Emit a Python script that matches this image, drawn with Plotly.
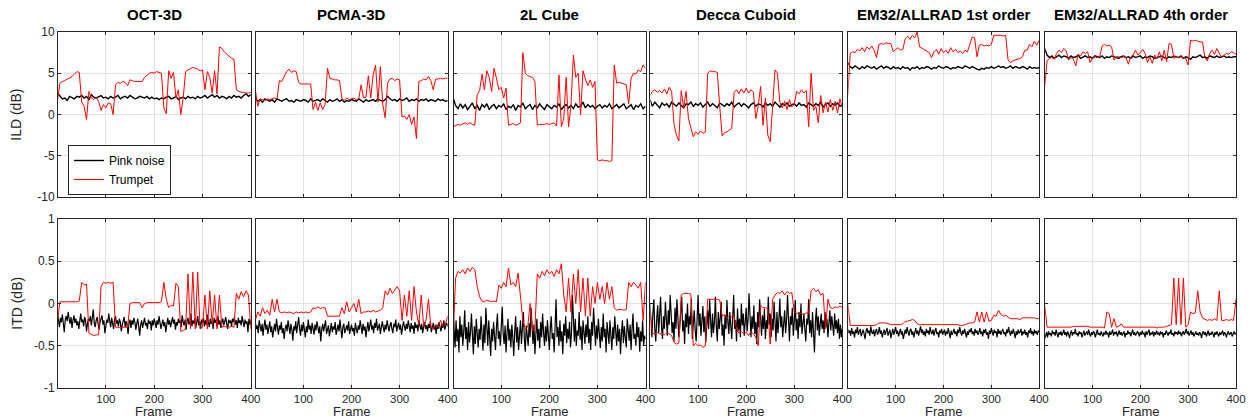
import plotly.graph_objects as go

# ---------------- data ----------------
frames = list(range(0, 401, 5))       # trumpet + ILD pink noise sampling
frames_fine = list(range(0, 401, 2))  # ITD pink noise sampling
titles = ["OCT-3D", "PCMA-3D", "2L Cube", "Decca Cuboid",
          "EM32/ALLRAD 1st order", "EM32/ALLRAD 4th order"]
ild_ticks = [-10, -5, 0, 5, 10]
ild_ticktext = ["-10", "-5", "0", "5", "10"]
itd_ticks = [-1, -0.5, 0, 0.5, 1]
itd_ticktext = ["-1", "-0.5", "0", "0.5", "1"]
frame_ticks = [100, 200, 300, 400]

# ---- ILD, pink noise ----
oct_ild_pink = [2.6,2.3,1.9,2.0,1.7,2.2,2.0,1.9,2.2,2.1,2.3,2.0,2.2,1.8,2.4,2.1,2.0,2.2,2.3,2.0,
                2.1,1.9,2.2,2.0,2.1,2.3,1.9,2.1,2.2,2.0,2.3,2.1,1.9,2.0,2.2,2.1,2.0,2.2,1.9,2.1,
                1.9,2.0,1.8,2.0,1.9,2.1,2.2,1.9,2.0,2.2,1.8,2.0,2.1,1.9,2.2,2.0,2.1,1.9,2.2,2.0,
                2.1,2.3,2.0,2.2,2.4,2.1,2.3,2.0,2.2,2.1,1.9,2.2,2.0,2.3,2.1,2.2,2.0,2.3,2.5,2.2,2.4]
pcma_ild_pink = [2.0,1.6,1.8,1.5,1.9,1.7,1.6,1.8,1.5,1.9,1.7,1.6,1.8,1.9,1.6,1.7,1.5,1.8,1.7,1.6,
                 1.8,1.7,1.5,1.9,1.6,1.7,1.8,1.6,1.9,1.7,1.5,1.8,1.6,1.7,1.9,1.6,1.8,1.5,1.7,1.6,
                 1.8,1.7,1.6,1.9,1.7,1.5,1.8,1.6,1.7,1.8,1.6,1.9,1.7,1.6,1.8,2.2,1.9,1.7,1.8,1.6,
                 1.9,1.7,1.8,2.0,1.6,1.8,1.7,1.9,1.6,1.8,1.7,1.9,1.6,1.8,1.7,1.6,1.9,1.7,1.8,1.6,1.7]
cube_ild_pink = [2.0,1.1,0.7,1.3,0.8,1.2,0.6,1.0,1.4,0.7,1.1,0.5,1.2,0.9,1.3,0.6,1.0,1.2,0.7,1.1,
                 0.9,1.3,0.6,1.0,0.8,1.2,0.5,1.1,0.9,1.4,0.7,1.0,1.2,0.6,1.1,0.8,1.3,0.9,0.6,1.2,
                 1.0,0.7,1.1,0.9,1.3,0.6,1.0,1.2,0.8,1.1,0.7,1.3,0.9,1.0,1.5,0.8,1.2,0.9,1.1,0.7,
                 1.0,1.2,0.8,1.1,0.9,1.3,0.7,1.0,1.2,0.8,1.1,1.3,0.7,1.0,1.2,0.6,1.1,0.9,1.3,0.7,1.0]
decca_ild_pink = [1.8,1.0,1.5,1.2,0.8,1.4,1.1,1.3,0.9,1.5,1.2,1.0,1.4,1.1,0.8,1.3,1.2,1.5,1.0,1.3,
                  1.1,1.4,0.9,1.2,1.5,1.0,1.3,1.1,0.8,1.4,1.2,1.0,1.3,1.1,1.5,0.9,1.2,1.4,1.0,1.3,
                  1.1,0.8,1.2,1.4,1.0,1.3,1.2,0.9,1.4,1.1,1.3,1.0,1.5,1.2,0.9,1.3,1.1,1.4,1.0,1.2,
                  1.3,1.0,1.4,1.1,1.2,0.9,1.4,1.2,1.0,1.3,1.1,1.5,0.9,1.2,1.4,1.0,1.3,1.1,1.4,1.0,1.2]
em1_ild_pink = [6.3,5.8,5.6,5.9,5.7,5.5,5.8,5.6,5.9,5.7,5.6,5.8,5.5,5.7,5.9,5.6,5.8,5.7,5.5,5.8,
                5.6,5.7,5.5,5.8,5.6,5.7,5.4,5.7,5.6,5.8,5.5,5.7,5.6,5.8,5.7,5.5,5.7,5.6,5.9,5.7,
                5.6,5.8,5.7,5.5,5.7,5.6,5.8,5.7,5.6,5.9,5.7,5.6,5.8,5.6,5.5,5.4,5.6,5.5,5.7,5.6,
                5.8,5.6,5.7,5.9,5.7,5.8,5.6,5.7,5.9,5.6,5.8,5.7,5.6,5.8,5.7,5.5,5.8,5.6,5.7,5.6,5.7]
em4_ild_pink = [8.0,7.2,6.9,7.1,6.8,7.0,7.2,6.9,7.1,7.0,6.8,7.1,6.9,7.0,7.2,6.8,7.0,7.1,6.9,7.0,
                6.8,7.1,7.0,6.9,7.1,6.8,7.0,6.9,7.1,7.0,6.9,6.8,7.0,7.1,6.9,7.0,6.8,7.1,6.9,7.0,
                7.1,6.8,7.0,6.9,7.1,7.0,6.8,6.9,7.0,7.1,6.9,6.8,7.0,6.9,7.1,7.0,6.9,7.1,6.8,7.0,
                6.9,6.7,7.0,6.9,7.1,7.2,6.9,7.0,6.8,7.1,7.0,6.9,7.1,6.9,7.0,7.1,6.9,7.0,6.9,7.0,7.0]

# ---- ILD, trumpet ----
oct_ild_trumpet = [1.7,3.8,4.0,4.1,4.3,4.4,4.6,4.9,5.2,5.1,1.5,1.0,-0.6,2.8,2.0,1.8,2.1,1.6,0.5,1.2,
                   0.8,1.4,1.3,0.0,3.6,3.9,3.8,4.0,3.9,3.5,4.2,4.1,4.0,4.0,4.0,4.0,4.5,4.8,5.0,5.1,
                   5.0,5.2,5.1,5.0,0.8,0.1,5.3,4.4,5.1,2.0,3.0,0.0,2.0,5.2,5.4,5.6,5.7,5.6,5.5,5.3,
                   5.4,3.0,5.2,4.5,2.6,5.3,2.5,8.2,8.0,7.6,7.3,7.0,6.8,6.7,3.0,2.8,2.7,2.7,2.6,2.6,2.7]
pcma_ild_trumpet = [3.0,1.0,1.9,1.8,1.7,1.9,1.8,1.9,2.0,1.9,4.1,4.0,4.6,5.2,5.5,5.1,5.3,5.2,3.9,3.7,
                    3.7,3.7,3.7,3.7,0.6,1.5,0.5,1.4,0.6,1.2,5.6,4.4,4.3,4.2,4.2,4.1,1.9,1.7,2.0,1.8,
                    1.9,2.0,1.8,1.9,3.6,2.0,2.1,4.7,2.0,4.8,6.0,1.5,5.8,1.2,-0.4,3.8,4.3,4.4,4.1,4.3,
                    4.2,-0.3,-0.2,-0.6,0.0,-1.2,-0.3,-2.9,4.0,4.1,4.3,4.2,4.6,4.1,3.0,4.3,4.3,4.4,4.3,4.4,4.4]
cube_ild_trumpet = [-1.5,-1.3,-1.2,-1.3,-1.1,-1.0,-1.2,-1.0,-1.2,-1.3,2.4,2.9,4.9,3.0,5.3,4.5,2.8,5.6,4.4,3.0,
                    3.3,2.0,3.2,-1.3,-1.2,-1.1,-1.3,-1.2,-1.0,7.5,5.0,4.7,4.6,4.5,4.0,-1.3,-1.2,-1.2,-1.2,-1.1,
                    -1.2,-1.1,-1.0,-1.4,4.8,-1.5,-0.5,4.5,-1.5,1.2,7.2,4.5,5.0,0.0,5.3,4.3,3.5,4.2,3.3,4.0,
                    -5.5,-5.6,-5.5,-5.6,-5.6,-5.7,-5.6,6.0,3.8,3.9,3.8,3.7,3.6,1.3,4.4,5.0,4.9,5.4,5.2,6.0,5.6]
decca_ild_trumpet = [2.3,2.8,3.0,2.7,2.9,2.6,3.1,2.5,3.3,2.8,-1.2,-2.5,-3.2,2.9,0.8,2.8,-0.5,-1.8,-2.7,-2.1,
                     -2.4,-2.0,-2.3,-2.1,5.0,5.3,5.2,5.2,5.1,1.0,-2.6,-2.2,-2.1,-1.9,-1.7,2.7,3.0,2.5,3.1,2.6,
                     3.2,2.6,3.0,2.7,-0.5,1.0,3.4,-1.3,2.0,-2.5,-3.3,1.0,5.4,5.0,1.5,0.8,1.6,0.6,1.8,0.9,
                     1.2,2.8,2.5,3.0,2.6,2.9,-1.5,5.0,0.5,1.0,-1.0,2.3,0.2,1.5,0.3,1.8,0.5,1.6,0.2,1.9,0.8]
em1_ild_trumpet = [2.4,7.4,7.6,7.5,7.9,7.7,8.1,7.6,8.2,7.9,8.3,7.8,6.9,8.5,8.6,8.5,8.7,8.6,8.6,7.6,
                   7.9,8.1,7.8,7.9,9.2,9.5,9.1,9.6,9.3,10.0,8.2,8.0,7.8,7.7,7.5,6.9,7.6,7.9,7.3,8.0,
                   7.5,7.8,7.4,8.1,7.6,7.9,7.5,7.7,7.4,7.8,7.6,8.5,9.4,9.3,7.0,8.4,8.5,8.3,8.4,8.3,
                   8.5,9.6,9.6,9.6,9.6,9.5,9.6,6.6,6.3,6.5,6.6,6.7,6.8,7.0,7.8,7.8,8.5,8.2,8.9,8.4,9.0]
em4_ild_trumpet = [3.4,6.5,6.8,6.9,6.7,7.4,7.8,7.5,8.0,7.7,6.6,6.9,6.7,5.9,7.3,7.1,7.6,7.4,7.6,6.3,
                   6.8,7.0,6.9,7.0,8.3,8.5,8.3,8.4,8.2,6.6,7.0,7.0,6.9,7.0,6.9,6.1,7.0,7.2,7.8,7.2,
                   7.5,7.9,7.4,6.3,7.0,6.2,7.2,6.8,7.6,6.5,7.8,6.4,8.6,8.5,6.8,7.0,6.9,7.0,6.9,6.8,
                   6.0,9.0,8.9,9.0,8.9,8.8,8.8,6.9,6.5,7.4,7.8,7.3,8.0,7.5,6.9,7.2,7.4,7.3,7.6,7.5,7.3]

# ---- ITD, pink noise (every 2 frames) ----
oct_itd_pink = [-0.12,-0.2,-0.28,-0.17,-0.22,-0.13,-0.25,-0.34,-0.19,-0.15,-0.21,-0.1,-0.18,-0.24,-0.16,-0.29,-0.2,-0.14,-0.23,-0.18,
                -0.26,-0.21,-0.3,-0.17,-0.12,-0.22,-0.19,-0.27,-0.16,-0.2,-0.33,-0.24,-0.18,-0.21,-0.15,-0.26,-0.19,-0.07,-0.23,-0.28,
                -0.2,-0.16,-0.24,-0.31,-0.22,-0.18,-0.14,-0.25,-0.2,-0.35,-0.26,-0.19,-0.23,-0.12,-0.21,-0.28,-0.17,-0.22,-0.3,-0.19,
                -0.15,-0.24,-0.2,-0.27,-0.18,-0.22,-0.33,-0.25,-0.2,-0.16,-0.28,-0.21,-0.26,-0.36,-0.23,-0.19,-0.29,-0.2,-0.25,-0.17,
                -0.22,-0.31,-0.24,-0.18,-0.27,-0.38,-0.25,-0.2,-0.29,-0.22,-0.17,-0.26,-0.23,-0.3,-0.19,-0.24,-0.21,-0.32,-0.2,-0.26,
                -0.18,-0.23,-0.29,-0.2,-0.25,-0.15,-0.22,-0.3,-0.24,-0.19,-0.27,-0.22,-0.34,-0.21,-0.17,-0.25,-0.2,-0.28,-0.23,-0.16,
                -0.24,-0.19,-0.31,-0.22,-0.26,-0.18,-0.23,-0.2,-0.28,-0.14,-0.22,-0.26,-0.19,-0.31,-0.21,-0.17,-0.25,-0.22,-0.12,-0.27,
                -0.2,-0.24,-0.18,-0.29,-0.22,-0.15,-0.26,-0.21,-0.3,-0.19,-0.23,-0.17,-0.27,-0.2,-0.25,-0.13,-0.22,-0.28,-0.18,-0.24,
                -0.21,-0.3,-0.17,-0.23,-0.19,-0.27,-0.15,-0.25,-0.2,-0.29,-0.22,-0.18,-0.26,-0.21,-0.16,-0.24,-0.3,-0.19,-0.23,-0.2,
                -0.27,-0.18,-0.22,-0.16,-0.25,-0.2,-0.29,-0.17,-0.23,-0.2,-0.26,-0.15,-0.22,-0.28,-0.19,-0.24,-0.21,-0.34,-0.18,-0.25,
                -0.2]
pcma_itd_pink = [-0.22,-0.3,-0.26,-0.35,-0.2,-0.28,-0.33,-0.24,-0.38,-0.27,-0.19,-0.31,-0.25,-0.36,-0.29,-0.21,-0.34,-0.27,-0.4,-0.3,
                 -0.24,-0.33,-0.18,-0.28,-0.37,-0.26,-0.31,-0.22,-0.35,-0.29,-0.42,-0.3,-0.25,-0.33,-0.2,-0.28,-0.36,-0.24,-0.31,-0.44,
                 -0.27,-0.32,-0.21,-0.35,-0.28,-0.16,-0.3,-0.38,-0.25,-0.33,-0.22,-0.29,-0.4,-0.27,-0.34,-0.19,-0.31,-0.26,-0.36,-0.23,
                 -0.3,-0.37,-0.25,-0.32,-0.21,-0.29,-0.35,-0.27,-0.45,-0.31,-0.24,-0.33,-0.28,-0.2,-0.36,-0.3,-0.26,-0.39,-0.29,-0.23,
                 -0.34,-0.27,-0.31,-0.22,-0.37,-0.29,-0.25,-0.33,-0.19,-0.3,-0.41,-0.28,-0.24,-0.35,-0.3,-0.26,-0.32,-0.21,-0.36,-0.28,
                 -0.25,-0.33,-0.29,-0.38,-0.23,-0.3,-0.35,-0.26,-0.31,-0.2,-0.28,-0.36,-0.24,-0.32,-0.27,-0.4,-0.3,-0.22,-0.33,-0.28,
                 -0.19,-0.31,-0.26,-0.35,-0.23,-0.29,-0.18,-0.32,-0.27,-0.24,-0.36,-0.3,-0.21,-0.28,-0.34,-0.25,-0.31,-0.2,-0.27,-0.33,
                 -0.26,-0.22,-0.3,-0.35,-0.24,-0.28,-0.19,-0.33,-0.27,-0.23,-0.31,-0.25,-0.37,-0.29,-0.21,-0.27,-0.32,-0.24,-0.3,-0.2,
                 -0.28,-0.34,-0.23,-0.3,-0.26,-0.36,-0.22,-0.29,-0.25,-0.33,-0.2,-0.28,-0.31,-0.24,-0.35,-0.27,-0.22,-0.3,-0.26,-0.33,
                 -0.24,-0.29,-0.21,-0.34,-0.27,-0.23,-0.31,-0.26,-0.36,-0.25,-0.3,-0.22,-0.28,-0.33,-0.24,-0.29,-0.2,-0.31,-0.26,-0.23,
                 -0.27]
cube_itd_pink = [-0.1,-0.38,-0.52,-0.2,-0.45,-0.3,-0.58,-0.15,-0.4,-0.25,-0.5,-0.33,-0.08,-0.42,-0.28,-0.55,-0.22,-0.46,-0.35,-0.12,
                 -0.4,-0.6,-0.27,-0.48,-0.18,-0.36,-0.52,-0.3,-0.43,-0.15,-0.38,-0.56,-0.25,-0.47,-0.05,-0.32,-0.5,-0.2,-0.41,-0.62,
                 -0.3,-0.45,-0.22,-0.38,-0.55,-0.28,-0.12,-0.42,-0.33,-0.5,-0.24,-0.04,-0.36,-0.48,-0.26,-0.58,-0.35,-0.18,-0.44,-0.3,
                 -0.52,-0.25,-0.4,-0.62,-0.33,-0.15,-0.46,-0.28,-0.55,-0.38,-0.2,-0.48,-0.3,-0.1,-0.42,-0.57,-0.26,-0.37,-0.5,-0.23,
                 -0.4,-0.05,-0.32,-0.48,-0.25,-0.6,-0.36,-0.18,-0.44,-0.3,-0.53,-0.22,-0.4,-0.12,-0.35,-0.5,-0.27,-0.45,-0.2,-0.38,
                 -0.55,-0.3,-0.15,-0.42,-0.35,-0.58,-0.25,0.05,-0.4,-0.28,-0.5,-0.2,-0.45,-0.33,-0.6,-0.24,-0.38,-0.15,-0.47,-0.3,
                 -0.42,-0.22,-0.52,-0.35,0.1,-0.28,-0.45,-0.18,-0.5,-0.32,-0.38,-0.1,-0.43,-0.27,-0.55,-0.2,-0.36,-0.48,-0.25,-0.4,
                 -0.15,-0.47,-0.3,-0.55,-0.22,-0.38,-0.05,-0.34,-0.5,-0.26,-0.42,-0.18,-0.36,-0.53,-0.28,-0.45,-0.12,-0.4,-0.3,-0.58,
                 -0.22,-0.37,-0.48,-0.2,-0.33,-0.55,-0.28,-0.42,-0.15,-0.38,-0.5,-0.25,-0.45,-0.3,-0.6,-0.35,-0.2,-0.47,-0.27,-0.4,
                 -0.52,-0.18,-0.35,-0.44,-0.25,-0.55,-0.3,-0.12,-0.42,-0.36,-0.5,-0.22,-0.4,-0.28,-0.57,-0.33,-0.45,-0.2,-0.5,-0.38,
                 -0.42]
decca_itd_pink = [0.0,-0.25,-0.4,-0.12,0.05,-0.3,-0.45,-0.18,-0.02,-0.35,-0.1,0.08,-0.28,-0.42,-0.15,-0.3,0.02,-0.2,-0.38,-0.08,
                  -0.25,0.1,-0.15,-0.35,-0.22,-0.45,-0.05,-0.3,0.05,-0.18,-0.4,-0.27,-0.1,0.08,-0.33,-0.2,-0.48,-0.12,-0.28,0.0,
                  -0.36,-0.15,-0.25,0.06,-0.42,-0.2,-0.08,-0.32,-0.45,-0.18,0.1,-0.27,-0.12,-0.38,-0.22,-0.03,-0.34,-0.15,-0.46,-0.25,
                  -0.08,-0.3,0.05,-0.2,-0.4,-0.12,-0.35,-0.22,0.08,-0.28,-0.45,-0.1,-0.3,-0.18,0.02,-0.38,-0.25,-0.5,-0.14,-0.3,
                  0.04,-0.22,-0.36,-0.1,-0.28,-0.42,-0.16,0.1,-0.3,-0.2,-0.45,-0.06,-0.32,-0.18,-0.4,0.0,-0.26,-0.12,-0.38,-0.22,
                  -0.05,-0.33,-0.18,0.12,-0.25,-0.4,-0.15,-0.3,-0.02,-0.36,-0.22,-0.48,-0.1,-0.28,0.05,-0.2,-0.38,-0.14,-0.3,-0.06,
                  -0.42,-0.2,-0.3,0.08,-0.25,-0.12,-0.4,-0.18,-0.32,0.02,-0.24,-0.45,-0.1,-0.35,-0.2,0.06,-0.28,-0.15,-0.4,-0.22,
                  -0.08,-0.35,-0.2,0.1,-0.3,-0.45,-0.15,-0.25,-0.05,-0.38,-0.22,0.04,-0.32,-0.18,-0.42,-0.1,-0.28,0.0,-0.36,-0.2,
                  -0.12,-0.3,-0.45,-0.18,-0.25,0.05,-0.35,-0.2,-0.4,-0.1,-0.28,-0.58,-0.22,-0.05,-0.32,-0.15,-0.38,-0.25,-0.12,-0.3,
                  -0.2,-0.35,-0.1,-0.28,-0.18,-0.4,-0.22,-0.08,-0.32,-0.15,-0.26,-0.38,-0.12,-0.3,-0.2,-0.35,-0.18,-0.42,-0.25,-0.4,
                  -0.3]
em1_itd_pink = [-0.3,-0.35,-0.32,-0.38,-0.29,-0.36,-0.33,-0.4,-0.31,-0.35,-0.28,-0.37,-0.33,-0.3,-0.39,-0.34,-0.31,-0.36,-0.42,-0.33,
                -0.29,-0.35,-0.32,-0.38,-0.27,-0.34,-0.36,-0.31,-0.39,-0.33,-0.3,-0.37,-0.34,-0.28,-0.36,-0.32,-0.4,-0.35,-0.31,-0.37,
                -0.33,-0.29,-0.38,-0.34,-0.31,-0.41,-0.35,-0.3,-0.37,-0.33,-0.28,-0.36,-0.32,-0.39,-0.34,-0.3,-0.37,-0.33,-0.42,-0.35,
                -0.31,-0.36,-0.28,-0.34,-0.38,-0.32,-0.3,-0.37,-0.33,-0.4,-0.35,-0.29,-0.36,-0.32,-0.38,-0.34,-0.27,-0.35,-0.31,-0.37,
                -0.33,-0.39,-0.3,-0.35,-0.32,-0.37,-0.28,-0.34,-0.36,-0.31,-0.38,-0.33,-0.29,-0.36,-0.34,-0.4,-0.32,-0.35,-0.3,-0.37,
                -0.34,-0.31,-0.38,-0.33,-0.36,-0.29,-0.35,-0.41,-0.32,-0.37,-0.34,-0.3,-0.36,-0.33,-0.39,-0.31,-0.35,-0.28,-0.34,-0.38,
                -0.32,-0.36,-0.3,-0.35,-0.4,-0.33,-0.37,-0.31,-0.34,-0.29,-0.36,-0.33,-0.38,-0.3,-0.35,-0.32,-0.37,-0.34,-0.29,-0.36,
                -0.33,-0.39,-0.31,-0.35,-0.3,-0.37,-0.34,-0.42,-0.32,-0.36,-0.29,-0.34,-0.38,-0.31,-0.35,-0.33,-0.4,-0.3,-0.36,-0.32,
                -0.37,-0.33,-0.3,-0.36,-0.34,-0.39,-0.31,-0.35,-0.28,-0.34,-0.38,-0.32,-0.36,-0.3,-0.35,-0.41,-0.33,-0.37,-0.31,-0.35,
                -0.34,-0.3,-0.38,-0.33,-0.36,-0.31,-0.37,-0.34,-0.4,-0.32,-0.35,-0.29,-0.36,-0.33,-0.38,-0.31,-0.35,-0.33,-0.37,-0.32,
                -0.34]
em4_itd_pink = [-0.42,-0.38,-0.34,-0.4,-0.33,-0.37,-0.35,-0.39,-0.32,-0.36,-0.34,-0.38,-0.31,-0.36,-0.4,-0.34,-0.37,-0.33,-0.38,-0.35,
                -0.31,-0.37,-0.34,-0.39,-0.33,-0.36,-0.41,-0.35,-0.32,-0.38,-0.34,-0.36,-0.3,-0.37,-0.35,-0.39,-0.33,-0.36,-0.34,-0.4,
                -0.36,-0.32,-0.38,-0.35,-0.33,-0.37,-0.31,-0.36,-0.39,-0.34,-0.37,-0.33,-0.35,-0.4,-0.34,-0.31,-0.37,-0.35,-0.38,-0.33,
                -0.36,-0.39,-0.34,-0.37,-0.32,-0.36,-0.35,-0.4,-0.33,-0.37,-0.35,-0.31,-0.38,-0.34,-0.36,-0.33,-0.39,-0.35,-0.32,-0.37,
                -0.34,-0.38,-0.36,-0.33,-0.4,-0.35,-0.37,-0.32,-0.36,-0.34,-0.39,-0.35,-0.31,-0.37,-0.34,-0.38,-0.36,-0.33,-0.35,-0.39,
                -0.34,-0.37,-0.32,-0.36,-0.35,-0.4,-0.33,-0.37,-0.34,-0.31,-0.38,-0.35,-0.36,-0.33,-0.39,-0.34,-0.37,-0.32,-0.36,-0.35,
                -0.38,-0.33,-0.36,-0.34,-0.4,-0.35,-0.37,-0.32,-0.35,-0.38,-0.34,-0.36,-0.31,-0.37,-0.35,-0.39,-0.33,-0.36,-0.34,-0.37,
                -0.32,-0.36,-0.34,-0.39,-0.35,-0.33,-0.37,-0.34,-0.3,-0.36,-0.33,-0.38,-0.35,-0.32,-0.37,-0.34,-0.39,-0.36,-0.33,-0.37,
                -0.35,-0.38,-0.34,-0.36,-0.41,-0.35,-0.33,-0.37,-0.34,-0.39,-0.36,-0.32,-0.38,-0.35,-0.37,-0.33,-0.36,-0.4,-0.34,-0.37,
                -0.33,-0.36,-0.39,-0.34,-0.37,-0.35,-0.32,-0.38,-0.34,-0.36,-0.4,-0.35,-0.33,-0.37,-0.36,-0.34,-0.39,-0.35,-0.33,-0.36,
                -0.35]

# ---- ITD, trumpet ----
oct_itd_trumpet = [-0.2,0.02,0.02,0.02,0.02,0.02,0.02,0.02,0.02,0.03,0.25,0.22,0.23,-0.35,-0.37,-0.38,-0.37,-0.37,0.2,0.25,
                   0.24,0.25,0.24,0.25,-0.28,-0.28,-0.29,-0.28,-0.28,-0.28,0.0,0.01,0.01,0.01,0.01,-0.05,0.0,0.01,0.01,0.01,
                   0.01,0.01,0.01,0.02,0.25,0.05,-0.05,-0.02,-0.03,0.24,0.2,-0.33,-0.32,-0.3,0.35,-0.3,0.37,-0.3,0.37,-0.3,
                   -0.28,0.1,-0.3,0.15,-0.25,0.1,-0.3,0.1,-0.28,-0.27,-0.28,-0.28,-0.27,-0.28,0.12,0.05,0.14,0.08,0.15,0.1,-0.3]
pcma_itd_trumpet = [-0.2,-0.1,-0.15,-0.05,-0.12,-0.08,-0.14,0.05,-0.1,0.05,-0.1,-0.11,-0.1,-0.11,-0.1,-0.11,-0.12,-0.1,-0.11,-0.1,
                    -0.11,-0.1,-0.11,-0.1,-0.05,-0.06,-0.04,-0.06,-0.05,-0.05,-0.15,-0.15,-0.15,-0.15,-0.15,-0.15,-0.05,-0.12,0.02,-0.1,
                    -0.05,0.0,-0.1,0.05,-0.12,-0.1,-0.1,-0.09,-0.1,-0.08,-0.1,-0.09,-0.08,-0.05,0.15,0.1,0.18,0.12,0.16,0.2,
                    0.15,-0.2,0.1,-0.15,0.15,-0.2,0.2,-0.1,-0.25,0.1,-0.27,-0.2,0.05,-0.28,-0.3,-0.25,-0.28,-0.2,-0.27,-0.25,-0.15]
cube_itd_trumpet = [-0.4,0.3,0.38,0.36,0.4,0.35,0.42,0.38,0.43,0.4,0.2,0.08,0.03,0.02,0.04,0.03,0.02,0.03,0.02,0.22,
                    0.18,0.25,0.2,0.42,0.22,0.25,0.2,0.36,0.1,-0.2,-0.3,-0.28,0.0,-0.32,-0.3,0.35,0.3,0.38,0.33,0.4,
                    0.35,0.38,0.32,0.4,0.35,0.47,0.1,-0.1,0.3,-0.1,0.35,0.0,0.4,-0.1,0.3,-0.15,0.3,-0.15,0.2,0.0,
                    0.25,0.05,0.2,0.0,0.25,0.05,0.2,-0.05,-0.08,-0.07,-0.07,-0.08,-0.07,0.25,0.2,0.25,0.22,0.18,0.25,-0.2,0.25]
decca_itd_trumpet = [-0.1,-0.35,-0.36,-0.34,-0.36,-0.35,-0.37,-0.35,-0.36,-0.38,-0.46,-0.48,-0.47,0.1,0.12,0.12,0.12,0.11,-0.5,-0.47,
                     -0.5,-0.49,-0.52,-0.5,0.05,0.05,0.05,0.05,0.05,0.04,-0.15,-0.13,-0.17,-0.14,-0.16,-0.15,-0.3,-0.35,-0.33,-0.36,
                     -0.34,-0.38,-0.33,-0.36,-0.4,-0.5,-0.02,-0.05,-0.05,-0.06,-0.48,0.05,0.1,0.13,0.12,0.15,0.1,0.14,0.12,0.13,
                     -0.1,-0.12,-0.11,-0.12,-0.13,-0.11,-0.12,0.15,0.18,0.14,0.16,0.1,0.12,-0.3,0.05,-0.05,-0.06,-0.04,-0.05,-0.03,-0.05]
em1_itd_trumpet = [0.0,-0.26,-0.26,-0.26,-0.26,-0.26,-0.26,-0.26,-0.26,-0.26,-0.26,-0.26,-0.25,-0.23,-0.23,-0.23,-0.23,-0.24,-0.25,-0.25,
                   -0.25,-0.25,-0.25,-0.24,-0.21,-0.21,-0.2,-0.19,-0.2,-0.24,-0.25,-0.25,-0.25,-0.25,-0.25,-0.25,-0.25,-0.25,-0.25,-0.25,
                   -0.25,-0.25,-0.25,-0.25,-0.25,-0.25,-0.25,-0.26,-0.26,-0.25,-0.24,-0.23,-0.23,-0.22,-0.1,-0.22,-0.1,-0.22,-0.1,-0.21,
                   -0.2,-0.14,-0.15,-0.08,-0.13,-0.15,-0.14,-0.16,-0.18,-0.18,-0.18,-0.18,-0.19,-0.17,-0.17,-0.17,-0.17,-0.17,-0.17,-0.18,-0.18]
em4_itd_trumpet = [-0.02,-0.28,-0.28,-0.28,-0.28,-0.28,-0.28,-0.28,-0.28,-0.28,-0.28,-0.28,-0.27,-0.27,-0.27,-0.27,-0.27,-0.27,-0.27,-0.28,
                   -0.28,-0.28,-0.28,-0.28,-0.28,-0.29,-0.1,-0.12,-0.28,-0.18,-0.28,-0.27,-0.24,-0.28,-0.28,-0.28,-0.28,-0.28,-0.28,-0.28,
                   -0.28,-0.28,-0.28,-0.28,-0.28,-0.28,-0.28,-0.29,-0.28,-0.28,-0.28,-0.27,-0.26,-0.25,0.3,-0.25,0.3,-0.25,0.3,-0.28,
                   -0.25,-0.1,-0.12,-0.11,0.15,-0.1,-0.17,-0.19,-0.2,-0.19,-0.2,-0.18,-0.2,0.15,-0.2,-0.2,-0.19,-0.2,-0.19,-0.2,0.05]

ild_pink = [oct_ild_pink, pcma_ild_pink, cube_ild_pink, decca_ild_pink, em1_ild_pink, em4_ild_pink]
ild_trumpet = [oct_ild_trumpet, pcma_ild_trumpet, cube_ild_trumpet, decca_ild_trumpet, em1_ild_trumpet, em4_ild_trumpet]
itd_pink = [oct_itd_pink, pcma_itd_pink, cube_itd_pink, decca_itd_pink, em1_itd_pink, em4_itd_pink]
itd_trumpet = [oct_itd_trumpet, pcma_itd_trumpet, cube_itd_trumpet, decca_itd_trumpet, em1_itd_trumpet, em4_itd_trumpet]

# ---------------- layout ----------------
W, H = 1258, 420
ML, MR, MT, MB = 58, 15, 32, 32
PW = W - ML - MR
PH = H - MT - MB
col_px = [(58, 252), (257, 450), (456, 649), (654, 847), (853, 1045), (1051, 1243)]
row_px = [(32, 197), (219, 388)]
FONT = "Liberation Sans, Arial, Helvetica, sans-serif"
AX = "#262626"


def xdom(c):
    a, b = col_px[c]
    return [(a - ML) / PW, (b - ML) / PW]


def ydom(r):
    a, b = row_px[r]
    return [(H - MB - b) / PH, (H - MB - a) / PH]


fig = go.Figure()
layout = {}
for r in range(2):
    for c in range(6):
        idx = r * 6 + c + 1
        xa = "x" if idx == 1 else f"x{idx}"
        ya = "y" if idx == 1 else f"y{idx}"
        if r == 0:
            pink, px, pw = ild_pink[c], frames, 1.4
            trum = ild_trumpet[c]
        else:
            pink, px, pw = itd_pink[c], frames_fine, 1.2
            trum = itd_trumpet[c]
        fig.add_trace(go.Scatter(x=px[:len(pink)], y=pink, mode="lines",
                                 line=dict(color="black", width=pw),
                                 name="Pink noise", showlegend=(idx == 1),
                                 xaxis=xa, yaxis=ya, hoverinfo="skip"))
        fig.add_trace(go.Scatter(x=frames[:len(trum)], y=trum, mode="lines",
                                 line=dict(color="#ff0000", width=1),
                                 name="Trumpet", showlegend=(idx == 1),
                                 xaxis=xa, yaxis=ya, hoverinfo="skip"))
        xkey = "xaxis" if idx == 1 else f"xaxis{idx}"
        ykey = "yaxis" if idx == 1 else f"yaxis{idx}"
        layout[xkey] = dict(
            domain=xdom(c), anchor=ya, range=[1, 400],
            tickvals=frame_ticks, ticktext=[str(t) for t in frame_ticks],
            showticklabels=(r == 1), ticks="inside", ticklen=3, tickcolor=AX,
            showgrid=True, gridcolor="#e1e1e1", gridwidth=1,
            showline=True, linecolor=AX, linewidth=1, mirror="ticks",
            zeroline=False, tickfont=dict(size=11.5, color=AX, family=FONT),
        )
        layout[ykey] = dict(
            domain=ydom(r), anchor=xa,
            range=[-10, 10] if r == 0 else [-1, 1],
            tickvals=ild_ticks if r == 0 else itd_ticks,
            ticktext=ild_ticktext if r == 0 else itd_ticktext,
            showticklabels=(c == 0), ticks="inside", ticklen=3, tickcolor=AX,
            showgrid=True, gridcolor="#e1e1e1", gridwidth=1,
            showline=True, linecolor=AX, linewidth=1, mirror="ticks",
            zeroline=False, tickfont=dict(size=12, color=AX, family=FONT),
        )

annotations = []
for c in range(6):
    d = xdom(c)
    annotations.append(dict(text=f"<b>{titles[c]}</b>", x=(d[0] + d[1]) / 2, y=1,
                            xref="paper", yref="paper", xanchor="center", yanchor="bottom",
                            yshift=7, showarrow=False,
                            font=dict(size=15, color="black", family=FONT)))
    annotations.append(dict(text="Frame", x=(d[0] + d[1]) / 2, y=0,
                            xref="paper", yref="paper", xanchor="center", yanchor="top",
                            yshift=-15, showarrow=False, borderpad=0,
                            font=dict(size=13, color=AX, family=FONT)))

for r, lab in enumerate(["ILD (dB)", "ITD (dB)"]):
    d = ydom(r)
    annotations.append(dict(text=lab, x=(16 - ML) / PW, y=(d[0] + d[1]) / 2,
                            xref="paper", yref="paper", xanchor="center", yanchor="middle",
                            textangle=-90, showarrow=False,
                            font=dict(size=14, color=AX, family=FONT)))

fig.update_layout(
    **layout,
    annotations=annotations,
    width=W, height=H,
    margin=dict(l=ML, r=MR, t=MT, b=MB, pad=0),
    paper_bgcolor="white", plot_bgcolor="white",
    font=dict(family=FONT, size=12, color=AX),
    showlegend=True,
    legend=dict(x=(68 - ML) / PW, y=(H - MB - 145) / PH, xanchor="left", yanchor="top",
                bgcolor="white", bordercolor=AX, borderwidth=1,
                font=dict(size=12, color="black", family=FONT),
                itemwidth=30, tracegroupgap=0),
)

fig.write_html("out.html")
